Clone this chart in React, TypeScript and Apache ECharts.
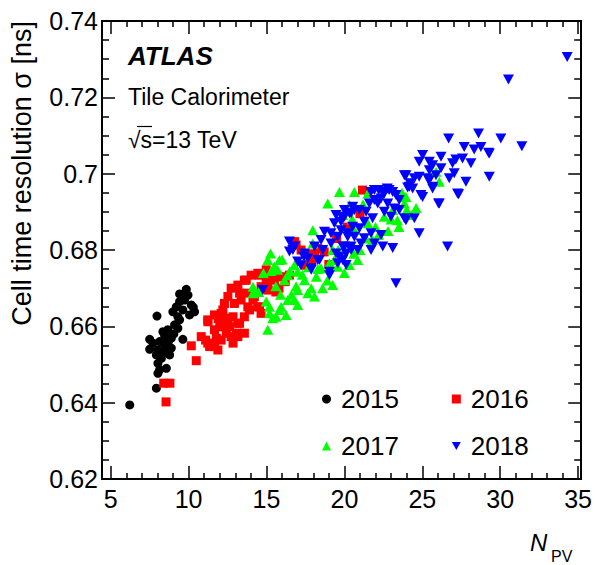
import React, { useEffect, useRef } from "react";
import * as echarts from "echarts";

const FONT = '"Liberation Sans", Arial, Helvetica, sans-serif';

const xMajor = [5, 10, 15, 20, 25, 30, 35];
const yMajor = [0.62, 0.64, 0.66, 0.68, 0.7, 0.72, 0.74];
const seriesNames = ["2015", "2016", "2017", "2018"];

const data2015: number[][] = [
  [6.22, 0.6394], [7.93, 0.6438], [8.03, 0.6477], [8.14, 0.6486], [8.57, 0.649], [8.03, 0.6503],
  [8.25, 0.6516], [7.93, 0.6525], [8.78, 0.6525], [8.35, 0.653], [8.03, 0.6538], [8.67, 0.6538],
  [7.5, 0.654], [8.89, 0.6543], [8.46, 0.6551], [7.71, 0.6556], [8.14, 0.656], [7.5, 0.6566],
  [9.63, 0.6566], [8.89, 0.6569], [8.46, 0.6575], [8.35, 0.6586], [8.67, 0.6591], [9.31, 0.6595],
  [9.1, 0.6604], [9.42, 0.6617], [9.31, 0.6625], [7.97, 0.6627], [10.06, 0.663], [8.99, 0.6638],
  [10.38, 0.6638], [9.63, 0.6643], [9.21, 0.6651], [10.17, 0.6656], [9.42, 0.6665], [9.74, 0.6669],
  [9.96, 0.6682], [9.42, 0.6685], [9.85, 0.6697], [8.7, 0.656], [9.05, 0.658], [10.3, 0.665],
];

const data2016: number[][] = [
  [8.4, 0.6451], [8.8, 0.6451], [8.55, 0.6402], [10.17, 0.6549], [10.49, 0.651], [11.24, 0.6612],
  [11.09, 0.6564], [11.35, 0.6547], [10.81, 0.6573], [11.23, 0.6556], [11.66, 0.6547], [11.88, 0.6538],
  [11.56, 0.6547], [11.78, 0.6569], [12.09, 0.6564], [12.42, 0.6582], [12.85, 0.6556], [12.73, 0.6573],
  [13.16, 0.6573], [13.07, 0.6582], [13.58, 0.6582], [12.63, 0.6599], [12.3, 0.6599], [11.66, 0.6591],
  [12.0, 0.6599], [13.27, 0.6608], [13.16, 0.6608], [12.52, 0.6617], [11.23, 0.6617], [12.42, 0.6621],
  [12.85, 0.6625], [13.58, 0.6625], [12.09, 0.6634], [11.66, 0.663], [12.2, 0.6643], [13.91, 0.6643],
  [13.8, 0.6651], [14.55, 0.6651], [14.44, 0.6651], [14.65, 0.6634], [12.3, 0.666], [12.94, 0.666],
  [13.37, 0.6669], [14.13, 0.6669], [12.52, 0.6678], [14.22, 0.6678], [13.8, 0.6687], [13.27, 0.6687],
  [12.73, 0.67], [14.65, 0.6704], [13.16, 0.6708], [15.08, 0.6713], [13.7, 0.6721], [13.58, 0.6721],
  [14.98, 0.6721], [15.5, 0.6721], [14.01, 0.6734], [14.55, 0.6734], [14.44, 0.6739], [15.62, 0.673],
  [16.47, 0.6734], [15.4, 0.6734], [14.98, 0.6748], [15.1, 0.6695], [15.6, 0.669], [15.8, 0.67],
  [16.2, 0.6717], [16.0, 0.673], [16.8, 0.6822], [16.9, 0.6813], [17.22, 0.68], [18.08, 0.6782],
  [18.29, 0.6804], [17.8, 0.679], [17.5, 0.676], [17.9, 0.677], [18.7, 0.6795], [19.0, 0.6762],
  [19.5, 0.683], [20.2, 0.686], [21.0, 0.6895], [21.16, 0.6957], [11.9, 0.662],
];

const data2017: number[][] = [
  [14.13, 0.6704], [14.13, 0.6687], [14.98, 0.6665], [15.08, 0.6591], [15.19, 0.6634], [15.62, 0.6625],
  [15.83, 0.6643], [15.19, 0.6651], [15.94, 0.6651], [15.4, 0.6621], [16.26, 0.663], [16.36, 0.6669],
  [16.79, 0.6669], [17.0, 0.6656], [17.0, 0.6695], [17.65, 0.6687], [18.08, 0.6678], [17.87, 0.67],
  [17.44, 0.6721], [16.15, 0.6721], [16.36, 0.6734], [17.0, 0.6743], [15.5, 0.6757], [15.08, 0.6774],
  [15.83, 0.6774], [15.26, 0.6791], [15.71, 0.6748], [16.6, 0.6683], [15.9, 0.6683], [18.5, 0.6752],
  [19.04, 0.6765], [19.25, 0.6708], [19.36, 0.6774], [19.57, 0.6756], [20.32, 0.6761], [20.85, 0.6774],
  [19.25, 0.68], [17.97, 0.6817], [17.97, 0.6852], [20.64, 0.6852], [21.5, 0.687], [21.8, 0.6826],
  [19.89, 0.6892], [18.93, 0.6922], [20.32, 0.6918], [19.68, 0.6952], [20.64, 0.6952], [21.5, 0.6948],
  [22.56, 0.6887], [23.1, 0.6905], [23.4, 0.6878], [23.85, 0.6922], [23.95, 0.6939], [24.28, 0.6892],
  [24.0, 0.6905], [26.09, 0.6979], [25.88, 0.7005], [14.5, 0.669], [14.8, 0.674], [16.8, 0.676],
  [18.6, 0.67], [18.2, 0.673], [20.0, 0.674], [21.0, 0.68], [22.0, 0.686], [22.8, 0.685], [23.5, 0.686],
  [20.5, 0.688], [21.2, 0.692], [15.6, 0.6705], [16.0, 0.6775], [16.5, 0.6745], [17.3, 0.6735],
  [17.7, 0.6755], [18.3, 0.675], [18.9, 0.672], [16.9, 0.6705], [15.3, 0.6745], [19.6, 0.68],
  [20.6, 0.679], [21.4, 0.683], [22.2, 0.684], [23.0, 0.688], [24.6, 0.691], [23.7, 0.695],
];

const data2018: number[][] = [
  [34.3, 0.7306], [30.53, 0.7247], [30.04, 0.7092], [31.39, 0.7072], [29.3, 0.7053], [29.3, 0.6992],
  [26.69, 0.7092], [28.61, 0.7105], [27.69, 0.707], [28.33, 0.7063], [28.76, 0.707], [29.25, 0.7055],
  [25.02, 0.7049], [26.2, 0.7044], [24.8, 0.7031], [25.45, 0.7031], [25.66, 0.7022], [27.15, 0.7037],
  [27.58, 0.704], [26.94, 0.7027], [28.12, 0.7027], [26.2, 0.7014], [25.45, 0.7009], [23.85, 0.6996],
  [24.49, 0.6988], [24.8, 0.6992], [25.34, 0.6988], [25.88, 0.6996], [27.05, 0.7001], [26.73, 0.6988],
  [25.45, 0.6983], [24.06, 0.6964], [24.38, 0.6961], [25.66, 0.6961], [27.8, 0.6979], [25.02, 0.6939],
  [27.33, 0.6946], [26.04, 0.6922], [23.52, 0.6931], [23.85, 0.6883], [24.49, 0.6883], [24.8, 0.6844],
  [26.62, 0.6809], [23.95, 0.6996], [24.17, 0.6966], [24.91, 0.6944], [21.92, 0.6957], [22.56, 0.6948],
  [23.1, 0.6952], [23.31, 0.6944], [22.35, 0.6935], [21.92, 0.6931], [21.6, 0.6922], [22.14, 0.6922],
  [22.78, 0.6922], [23.21, 0.6909], [23.52, 0.6905], [23.95, 0.6878], [22.99, 0.6887], [22.56, 0.69],
  [21.39, 0.69], [20.96, 0.6905], [20.64, 0.6905], [21.81, 0.6883], [21.28, 0.6874], [20.43, 0.6896],
  [20.0, 0.6887], [19.79, 0.6874], [20.53, 0.6861], [20.96, 0.6857], [20.21, 0.6844], [19.57, 0.6835],
  [20.64, 0.6835], [21.28, 0.6831], [21.71, 0.6844], [22.35, 0.6839], [22.46, 0.6809], [23.1, 0.6805],
  [21.92, 0.6817], [20.0, 0.6809], [20.43, 0.68], [19.68, 0.6782], [20.11, 0.6761], [19.57, 0.6765],
  [21.07, 0.6817], [20.32, 0.6896], [19.89, 0.6883], [19.36, 0.687], [18.72, 0.6848], [19.14, 0.6844],
  [19.79, 0.6852], [20.21, 0.6835], [18.5, 0.6826], [19.14, 0.6817], [19.89, 0.6809], [20.43, 0.6809],
  [18.08, 0.6809], [18.61, 0.68], [19.47, 0.6791], [20.11, 0.6791], [16.69, 0.68], [17.44, 0.6791],
  [17.65, 0.6778], [18.29, 0.6774], [16.47, 0.6796], [17.87, 0.6752], [19.04, 0.6734], [17.0, 0.677],
  [26.09, 0.6922], [21.71, 0.68], [23.31, 0.6713], [20.85, 0.68], [19.89, 0.6774], [19.04, 0.6743],
  [17.87, 0.6748], [17.2, 0.676], [18.4, 0.6774], [17.4, 0.6782], [22.44, 0.6952], [22.87, 0.6957],
  [25.66, 0.6966], [27.26, 0.6948], [14.76, 0.6695], [16.47, 0.6822], [16.79, 0.6809], [19.46, 0.6892],
  [20.0, 0.6905], [20.53, 0.6913], [21.7, 0.6952], [22.2, 0.6957], [22.75, 0.6961], [24.2, 0.6975],
];

const XMIN = 4.44;
const XMAX = 35.2;
const YMIN = 0.62;
const YMAX = 0.74;

const xMinor: number[] = [];
for (let v = 5; v <= 35; v++) if (v % 5 !== 0) xMinor.push(v);
const yMinor: number[] = [];
for (let i = 124; i <= 148; i++) if (i % 4 !== 0) yMinor.push(i / 200);

function xAx(pos: "top" | "bottom", ticks: number[], len: number, labels: boolean, line: boolean) {
  return {
    type: "value",
    position: pos,
    min: XMIN,
    max: XMAX,
    axisLine: { show: line, onZero: false, lineStyle: { color: "#000", width: 2 } },
    axisTick: { show: true, inside: true, length: len, customValues: ticks, lineStyle: { color: "#000", width: 1.5 } },
    axisLabel: {
      show: labels, customValues: ticks, margin: 7, fontSize: 25, color: "#000", fontFamily: FONT,
    },
    splitLine: { show: false },
  };
}
function yAx(pos: "left" | "right", ticks: number[], len: number, labels: boolean, line: boolean) {
  return {
    type: "value",
    position: pos,
    min: YMIN,
    max: YMAX,
    axisLine: { show: line, onZero: false, lineStyle: { color: "#000", width: 2 } },
    axisTick: { show: true, inside: true, length: len, customValues: ticks, lineStyle: { color: "#000", width: 1.5 } },
    axisLabel: {
      show: labels, customValues: ticks, margin: 4, fontSize: 25, color: "#000", fontFamily: FONT,
    },
    splitLine: { show: false },
  };
}

export default function App() {
  const ref = useRef<HTMLDivElement>(null);
  useEffect(() => {
    const chart = echarts.init(ref.current!, null, { renderer: "svg" });
    const legendCommon = {
      left: 322,
      orient: "horizontal",
      itemWidth: 9,
      itemHeight: 9,
      itemGap: 53,
      padding: 0,
      selectedMode: false,
      textStyle: { fontSize: 26, color: "#000", fontFamily: FONT, padding: [0, 0, 0, 5] },
    };
    chart.setOption({
      animation: false,
      backgroundColor: "#fff",
      grid: { left: 102, top: 21, width: 481, height: 458, containLabel: false },
      xAxis: [
        xAx("bottom", xMajor, 13, true, true),
        xAx("bottom", xMinor, 6, false, false),
        xAx("top", xMajor, 13, false, true),
        xAx("top", xMinor, 6, false, false),
      ],
      yAxis: [
        yAx("left", yMajor, 13, true, true),
        yAx("left", yMinor, 7, false, false),
        yAx("right", yMajor, 13, false, true),
        yAx("right", yMinor, 7, false, false),
      ],
      legend: [
        { ...legendCommon, top: 386, data: [seriesNames[0], seriesNames[1]] },
        { ...legendCommon, top: 433, data: [seriesNames[2], seriesNames[3]] },
      ],
      series: [
        { name: seriesNames[0], type: "scatter", data: data2015, symbol: "circle", symbolSize: 9, itemStyle: { color: "#000000", opacity: 1 } },
        { name: seriesNames[1], type: "scatter", data: data2016, symbol: "rect", symbolSize: 9, itemStyle: { color: "#ff0000", opacity: 1 } },
        { name: seriesNames[2], type: "scatter", data: data2017, symbol: "triangle", symbolSize: [11, 10], itemStyle: { color: "#00ff00", opacity: 1 } },
        { name: seriesNames[3], type: "scatter", data: data2018, symbol: "path://M0,0L10,0L5,9Z", symbolSize: [11, 10], itemStyle: { color: "#0000ff", opacity: 1 } },
      ],
      graphic: [
        { type: "text", x: 128, y: 56, style: { text: "ATLAS", font: `italic bold 26px ${FONT}`, fill: "#000", align: "left", verticalAlign: "middle", textAlign: "left", textVerticalAlign: "middle" } },
        { type: "text", x: 128, y: 97, style: { text: "Tile Calorimeter", font: `23px ${FONT}`, fill: "#000", align: "left", verticalAlign: "middle", textAlign: "left", textVerticalAlign: "middle" } },
        { type: "text", x: 128, y: 139.5, style: { text: "√s=13 TeV", font: `23px ${FONT}`, fill: "#000", align: "left", verticalAlign: "middle", textAlign: "left", textVerticalAlign: "middle" } },
        { type: "line", shape: { x1: 137, y1: 126.5, x2: 152, y2: 126.5 }, style: { stroke: "#000", lineWidth: 1.2 } },
        { type: "text", x: 22, y: 21, rotation: Math.PI / 2, style: { text: "Cell time resolution σ [ns]", font: `27px ${FONT}`, fill: "#000", align: "right", verticalAlign: "middle", textAlign: "right", textVerticalAlign: "middle" } },
        { type: "text", x: 530, y: 542, style: { text: "N", font: `italic 24px ${FONT}`, fill: "#000", align: "left", verticalAlign: "middle", textAlign: "left", textVerticalAlign: "middle" } },
        { type: "text", x: 551, y: 556, style: { text: "PV", font: `16px ${FONT}`, fill: "#000", align: "left", verticalAlign: "middle", textAlign: "left", textVerticalAlign: "middle" } },
      ],
    });
    return () => chart.dispose();
  }, []);
  return <div ref={ref} style={{ position: "absolute", left: 0, top: 0, width: 595, height: 565 }} />;
}
